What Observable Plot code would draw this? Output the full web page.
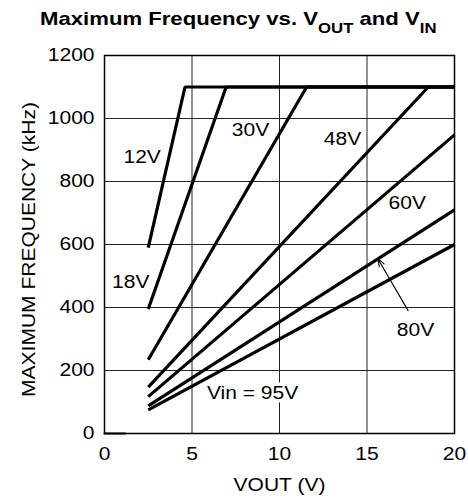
<!DOCTYPE html>
<html><head><meta charset="utf-8">
<script src="https://cdn.jsdelivr.net/npm/d3@7"></script>
<script src="https://cdn.jsdelivr.net/npm/@observablehq/plot@0.6"></script>
<style>
body{margin:0;background:#fff;font-family:"Liberation Sans",Arial,sans-serif;}
#title{position:relative;height:45px;width:468px;overflow:visible;}
#title span{position:absolute;left:40px;top:10px;white-space:nowrap;font-weight:bold;font-size:18.5px;line-height:18.5px;transform-origin:0 0;}
#title sub{font-size:14px;vertical-align:baseline;position:relative;top:7.5px;}
</style></head><body>
<div id="title"><span id="tt">Maximum Frequency vs. V<sub>OUT</sub> and V<sub>IN</sub></span></div>
<div id="chart"></div>
<script>
// ---- data ----
const series = ["12V", "18V", "30V", "48V", "60V", "80V", "95V"];
const voutMin = 2.5;
const freqAtMin = [590, 395, 234, 147, 117, 88, 75];
const voutAtLimit = [4.6, 6.95, 11.55, 18.5, null, null, null];
const freqLimit = 1100;
const voutMax = 20;
const freqAtMax = [1100, 1100, 1100, 1100, 948, 710, 600];

const xTicks = [0, 5, 10, 15, 20];
const yTicks = [0, 200, 400, 600, 800, 1000, 1200];

const labelText = ["12V", "18V", "30V", "48V", "60V", "80V", "Vin = 95V"];
const labelVout = [2.15, 1.5, 8.34, 13.6, 17.3, 17.77, 8.46];
const labelFreq = [877, 480, 962, 935, 729, 327, 126];

const arrowFrom = [17.35, 390];
const arrowTo = [15.62, 555];

const stubVout = [0, 1.2];
const stubFreq = [0, 0];

// ---- build tables ----
const rows = [];
series.forEach((s, i) => {
  rows.push({s, vout: voutMin, f: freqAtMin[i]});
  if (voutAtLimit[i] != null) rows.push({s, vout: voutAtLimit[i], f: freqLimit});
  rows.push({s, vout: voutMax, f: freqAtMax[i]});
});
const labels = labelText.map((t, i) => ({t, x: labelVout[i], y: labelFreq[i]}));
const stub = stubVout.map((v, i) => ({x: v, y: stubFreq[i]}));

const FS = 17.5;
const chart = Plot.plot({
  width: 468, height: 454,
  marginTop: 10, marginBottom: 66, marginLeft: 104, marginRight: 14,
  style: {fontFamily: "'Liberation Sans', Arial, sans-serif", fontSize: FS + "px", color: "black", background: "white"},
  x: {domain: [0, 20], ticks: xTicks, tickSize: 0, tickPadding: 14, label: null, tickFormat: d => String(d)},
  y: {domain: [0, 1200], ticks: yTicks, tickSize: 0, tickPadding: 10, label: null, tickFormat: d => String(d)},
  marks: [
    Plot.ruleX(xTicks.slice(1, -1), {stroke: "#222", strokeWidth: 1}),
    Plot.ruleY(yTicks.slice(1, -1), {stroke: "#222", strokeWidth: 1}),
    Plot.text(labels, {x: "x", y: "y", text: "t", fill: "black", stroke: "white", strokeWidth: 7, paintOrder: "stroke", fontSize: FS}),
    Plot.line(rows, {x: "vout", y: "f", z: "s", stroke: "black", strokeWidth: 3.2, strokeLinejoin: "miter", strokeLinecap: "butt"}),
    Plot.line(stub, {x: "x", y: "y", stroke: "black", strokeWidth: 2.2}),
    Plot.arrow([{x1: arrowFrom[0], y1: arrowFrom[1], x2: arrowTo[0], y2: arrowTo[1]}], {x1: "x1", y1: "y1", x2: "x2", y2: "y2", stroke: "black", strokeWidth: 1.1, headLength: 11, headAngle: 40}),
    Plot.frame({stroke: "black", strokeWidth: 1.5}),
    Plot.text(["VOUT (V)"], {frameAnchor: "bottom", dy: 57, fontSize: FS, fill: "black", textAnchor: "middle"}),
    Plot.text(["MAXIMUM FREQUENCY (kHz)"], {frameAnchor: "left", dx: -75, dy: 5, rotate: -90, fontSize: FS, fill: "black", textAnchor: "middle"})
  ]
});
document.getElementById("chart").appendChild(chart);

// widen glyphs to match the reference's wide lettering
const STRETCH = 1.2;
chart.querySelectorAll("text").forEach(el => {
  const len = el.getComputedTextLength();
  if (len > 0) {
    el.setAttribute("textLength", (len * STRETCH).toFixed(2));
    el.setAttribute("lengthAdjust", "spacingAndGlyphs");
  }
});
const tt = document.getElementById("tt");
const w = tt.offsetWidth;
tt.style.transform = `scaleX(${396 / w})`;
</script>
</body></html>
